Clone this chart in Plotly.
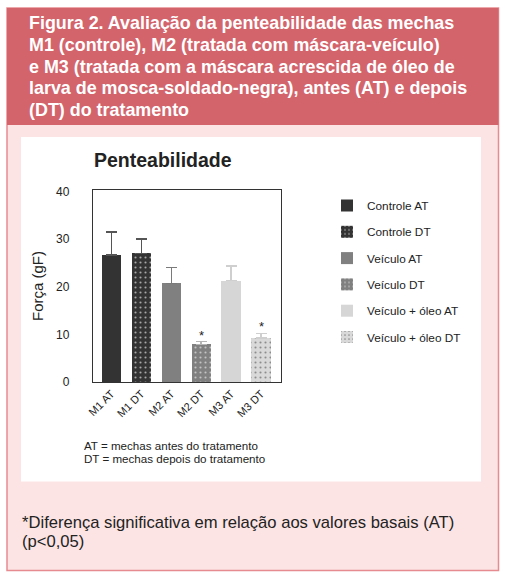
import plotly.graph_objects as go

# ---- data ----
categories = ["M1 AT", "M1 DT", "M2 AT", "M2 DT", "M3 AT", "M3 DT"]
series_names = ["Controle AT", "Controle DT", "Veículo AT", "Veículo DT",
                "Veículo + óleo AT", "Veículo + óleo DT"]
values = [26.7, 27.0, 20.7, 7.9, 21.3, 9.2]
errors_up = [4.8, 3.0, 3.3, 0.6, 3.0, 1.0]
significant = [False, False, False, True, False, True]
y_ticks = [0, 10, 20, 30, 40]

header_lines = [
    "Figura 2. Avaliação da penteabilidade das mechas",
    "M1 (controle), M2 (tratada com máscara-veículo)",
    "e M3 (tratada com a máscara acrescida de óleo de",
    "larva de mosca-soldado-negra), antes (AT) e depois",
    "(DT) do tratamento",
]
notes = ["AT = mechas antes do tratamento", "DT = mechas depois do tratamento"]
footer = ["*Diferença significativa em relação aos valores basais (AT)", "(p<0,05)"]

# ---- styles ----
FONT = "Liberation Sans, Arial, sans-serif"
bar_colors = ["#333333", "#333333", "#808080", "#808080", "#d6d6d6", "#d9d9d9"]
dot_colors = [None, "#a8a8a8", None, "#c4c4c4", None, "#8c8c8c"]
err_colors = ["#555555", "#555555", "#7a7a7a", "#b5b5b5", "#cfcfcf", "#cfcfcf"]

W, H = 505, 574
L, R, T, B = 93, 281, 190, 382  # plot area in px


def px(x):
    return (x - L) / (R - L)


def py(y):
    return (B - y) / (B - T)


fig = go.Figure()
for i, (cat, name, v, e) in enumerate(zip(categories, series_names, values, errors_up)):
    marker = dict(color=bar_colors[i], line=dict(width=0))
    if dot_colors[i]:
        marker["pattern"] = dict(shape=".", bgcolor=bar_colors[i], fgcolor=dot_colors[i],
                                 fillmode="replace", size=5, solidity=0.14)
    fig.add_trace(go.Bar(
        x=[i], y=[v], name=name, width=0.65, marker=marker,
        legendgroup=name,
        error_y=dict(type="data", symmetric=False, array=[e], arrayminus=[0],
                     color=err_colors[i], thickness=1.5, width=5.5),
    ))
    if significant[i]:
        fig.add_annotation(x=i, y=v + e, xref="x", yref="y", text="*", showarrow=False,
                           yanchor="bottom", yshift=-3, font=dict(family=FONT, size=13, color="#222"))

shapes = [
    dict(type="rect", xref="paper", yref="paper", x0=px(7), x1=px(498.5), y0=py(570.5), y1=py(8),
         fillcolor="#fce4e4", line=dict(color="#e68c90", width=1.5), layer="below"),
    dict(type="rect", xref="paper", yref="paper", x0=px(7), x1=px(498.5), y0=py(125), y1=py(8),
         fillcolor="#d3646c", line=dict(width=0), layer="below"),
    dict(type="rect", xref="paper", yref="paper", x0=px(21), x1=px(481), y0=py(481.5), y1=py(137),
         fillcolor="#ffffff", line=dict(width=0), layer="below"),
]

ann = []
for k, line in enumerate(header_lines):
    ann.append(dict(x=px(27), y=py(23 + k * 21.8), xref="paper", yref="paper", text="<b>%s</b>" % line,
                    showarrow=False, xanchor="left", yanchor="middle",
                    font=dict(family=FONT, size=17.9, color="#ffffff")))
ann.append(dict(x=px(92), y=py(160), xref="paper", yref="paper", text="<b>Penteabilidade</b>",
                showarrow=False, xanchor="left", yanchor="middle",
                font=dict(family=FONT, size=19.5, color="#222222")))
for k, line in enumerate(notes):
    ann.append(dict(x=px(82), y=py(445 + k * 13), xref="paper", yref="paper", text=line,
                    showarrow=False, xanchor="left", yanchor="middle",
                    font=dict(family=FONT, size=11.6, color="#222222")))
for k, line in enumerate(footer):
    ann.append(dict(x=px(20), y=py(522 + k * 19.5), xref="paper", yref="paper", text=line,
                    showarrow=False, xanchor="left", yanchor="middle",
                    font=dict(family=FONT, size=16.6, color="#222222")))
fig.update_layout(annotations=list(fig.layout.annotations) + ann)

fig.update_layout(
    width=W, height=H,
    margin=dict(l=L, r=W - R, t=T, b=H - B, pad=0),
    paper_bgcolor="#ffffff", plot_bgcolor="#ffffff",
    font=dict(family=FONT, color="#222222"),
    shapes=shapes,
    showlegend=True,
    legend=dict(x=px(327), y=py(191), xanchor="left", yanchor="top",
                traceorder="grouped", tracegroupgap=7.3, bgcolor="rgba(0,0,0,0)",
                font=dict(family=FONT, size=11.8, color="#222222"), itemwidth=30),
    bargap=0,
)
fig.update_xaxes(range=[-0.61, 5.66], tickmode="array", tickvals=list(range(len(categories))),
                 ticktext=categories, tickangle=-45, showline=True, mirror=True,
                 linecolor="#333333", linewidth=1.3, showgrid=False, zeroline=False,
                 ticks="", tickfont=dict(family=FONT, size=11, color="#222222"))
fig.update_yaxes(range=[0, 40.3], tickmode="array", tickvals=y_ticks, showline=True, mirror=True,
                 linecolor="#333333", linewidth=1.3, showgrid=False, zeroline=False,
                 ticks="", ticklabelstandoff=20, tickfont=dict(family=FONT, size=12, color="#222222"),
                 title=dict(text="Força (gF)", standoff=8, font=dict(family=FONT, size=15, color="#222222")))

fig.write_html("out.html", config={"displayModeBar": False},
               post_script="document.body.style.margin='0';document.body.style.overflow='hidden';")
